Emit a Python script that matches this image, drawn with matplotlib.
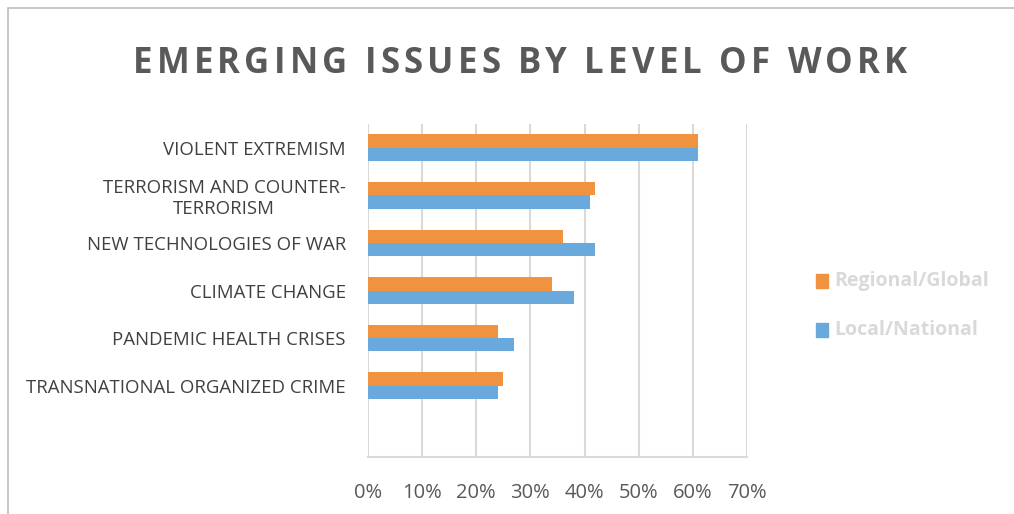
import matplotlib.pyplot as plt
import matplotlib.patches as mpatches
import numpy as np

# data
categories = ['VIOLENT EXTREMISM', 'TERRORISM AND COUNTER-\nTERRORISM',
              'NEW TECHNOLOGIES OF WAR', 'CLIMATE CHANGE',
              'PANDEMIC HEALTH CRISES', 'TRANSNATIONAL ORGANIZED CRIME']
regional_global = [61, 42, 36, 34, 24, 25]
local_national = [61, 41, 42, 38, 27, 24]
xticks = [0, 10, 20, 30, 40, 50, 60, 70]
title = 'EMERGING ISSUES BY LEVEL OF WORK'

orange = '#F0923F'
blue = '#69A9DB'
grid_grey = '#D9D9D9'

plt.rcParams['font.family'] = ['Open Sans', 'DejaVu Sans']

W, H = 1014, 514
fig = plt.figure(figsize=(W / 100, H / 100), dpi=100)

# chart frame (cut off at right and bottom like the source)
fig.patches.append(mpatches.Rectangle((8 / W, -0.1), 1.2, 1 - 8 / H + 0.1,
                                      transform=fig.transFigure, fill=False,
                                      edgecolor='#BFBFBF', linewidth=1.2))

ax = fig.add_axes([368 / W, 57 / H, 379 / W, 333 / H])

y = np.arange(len(categories))
h = 0.28
ax.barh(y - h / 2, regional_global, height=h, color=orange, label='Regional/Global', zorder=3)
ax.barh(y + h / 2, local_national, height=h, color=blue, label='Local/National', zorder=3)

ax.set_xlim(0, 70)
ax.set_ylim(6.5, -0.5)
ax.set_xticks(xticks)
ax.set_xticklabels([f'{t}%' for t in xticks], fontsize=14.5, color='#595959')
ax.set_yticks(y)
ax.set_yticklabels(categories, fontsize=13.4, color='#404040', multialignment='center')
ax.tick_params(axis='both', length=0)
ax.tick_params(axis='x', pad=19)
ax.tick_params(axis='y', pad=16)
ax.xaxis.grid(True, color=grid_grey, linewidth=1.5, zorder=0)
for s in ['top', 'right', 'left']:
    ax.spines[s].set_visible(False)
ax.spines['bottom'].set_color(grid_grey)
ax.spines['bottom'].set_linewidth(1.5)

# title with letter spacing: place each character by hand
renderer = fig.canvas.get_renderer()
tfont = dict(fontsize=25, fontweight='bold', color='#595959')
def text_w(s):
    if not s:
        return 0.0
    t = fig.text(0, 0, s.replace(' ', '\u00a0'), **tfont)
    w = t.get_window_extent(renderer).width
    t.remove()
    return w
prefix_w = [text_w(title[:i]) for i in range(len(title) + 1)]
span = 774.0
track = (span - prefix_w[-1]) / (len(title) - 1)
x0 = 133.0
for i, ch in enumerate(title):
    if ch == ' ':
        continue
    fig.text((x0 + prefix_w[i] + i * track) / W, 1 - 64 / H, ch,
             ha='left', va='center', **tfont)

# legend drawn by hand in the right margin
leg_items = [('Regional/Global', orange, 281), ('Local/National', blue, 330)]
for label, col, ypix in leg_items:
    fig.patches.append(mpatches.Rectangle((816 / W, 1 - (ypix + 7) / H), 12 / W, 14 / H,
                                          transform=fig.transFigure, color=col))
    fig.text(834 / W, 1 - ypix / H, label, ha='left', va='center',
             fontsize=14, fontweight='bold', color='#D9D9D9')

fig.savefig('out.png', dpi=100)
